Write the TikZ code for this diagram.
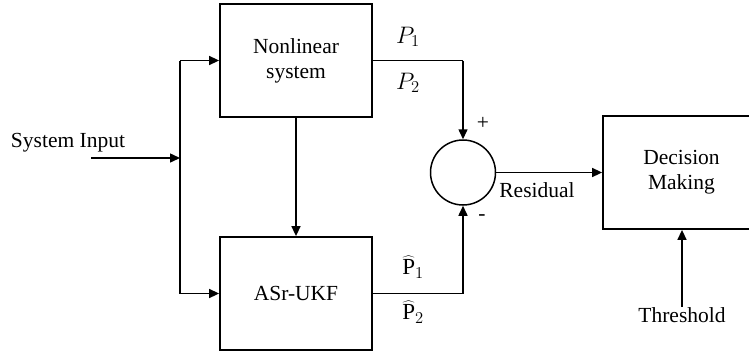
\documentclass[tikz,border=0pt]{standalone}
\usepackage{fontspec}
\usepackage{graphicx}
\setmainfont{Liberation Serif}
\usetikzlibrary{arrows.meta}
\newcommand{\mlab}[1]{\scalebox{1.15}{$#1$}}
\begin{document}
\begin{tikzpicture}[x=1pt,y=-1pt,
  every node/.style={font=\fontsize{21.5}{25}\selectfont},
  blk/.style={draw,line width=1.8pt,minimum width=152pt,minimum height=113pt,align=center,inner sep=0pt},
  conn/.style={line width=1.5pt},
  arr/.style={line width=1.5pt,-{Triangle[length=10pt,width=9pt]}},
  lbl/.style={inner sep=0pt},
  mlbl/.style={inner sep=0pt,font=\fontsize{20}{24}\selectfont}]
\useasboundingbox (0,0) rectangle (749,354);
\node[blk] (ns) at (296,60.5) {Nonlinear\\system};
\node[blk] (ukf) at (296,293.5) {ASr-UKF};
\node[draw,circle,line width=1.5pt,minimum size=65pt,inner sep=0pt] (sum) at (463,172.5) {};
\node[blk,minimum width=157pt] (dm) at (681.5,172.5) {Decision\\Making};
\node[lbl] (sin) at (68,143) {System Input};
\node[lbl,anchor=north] (thr) at (682,307) {Threshold};
\coordinate (start) at (91,158);
\coordinate (j) at (180,158);
\coordinate (jt) at (180,60.5);
\coordinate (jb) at (180,293.5);
\coordinate (ct) at (463,60.5);
\coordinate (cb) at (463,293.5);
\draw[arr] (start) -- (j);
\draw[conn] (jt) -- (jb);
\draw[arr] (jt) -- (ns.west);
\draw[arr] (jb) -- (ukf.west);
\draw[arr] (ns.south) -- (ukf.north);
\draw[conn] (ns.east) -- (ct);
\draw[arr] (ct) -- (sum.north);
\draw[conn] (ukf.east) -- (cb);
\draw[arr] (cb) -- (sum.south);
\draw[arr] (sum.east) -- (sum.east -| dm.west);
\draw[arr] (thr.north) -- (thr.north |- dm.south);
\node[mlbl] (p1) at (408,37) {\mlab{P_1}};
\node[mlbl] (p2) at (408,83) {\mlab{P_2}};
\node[mlbl] (ph1) at (413,267) {\mlab{\widehat{\mathrm{P}}_1}};
\node[mlbl] (ph2) at (413,312) {\mlab{\widehat{\mathrm{P}}_2}};
\node[lbl] (plus) at (483,123) {+};
\node[lbl] (minus) at (482,218) {-};
\node[lbl] (res) at (537,190) {Residual};
\end{tikzpicture}
\end{document}
